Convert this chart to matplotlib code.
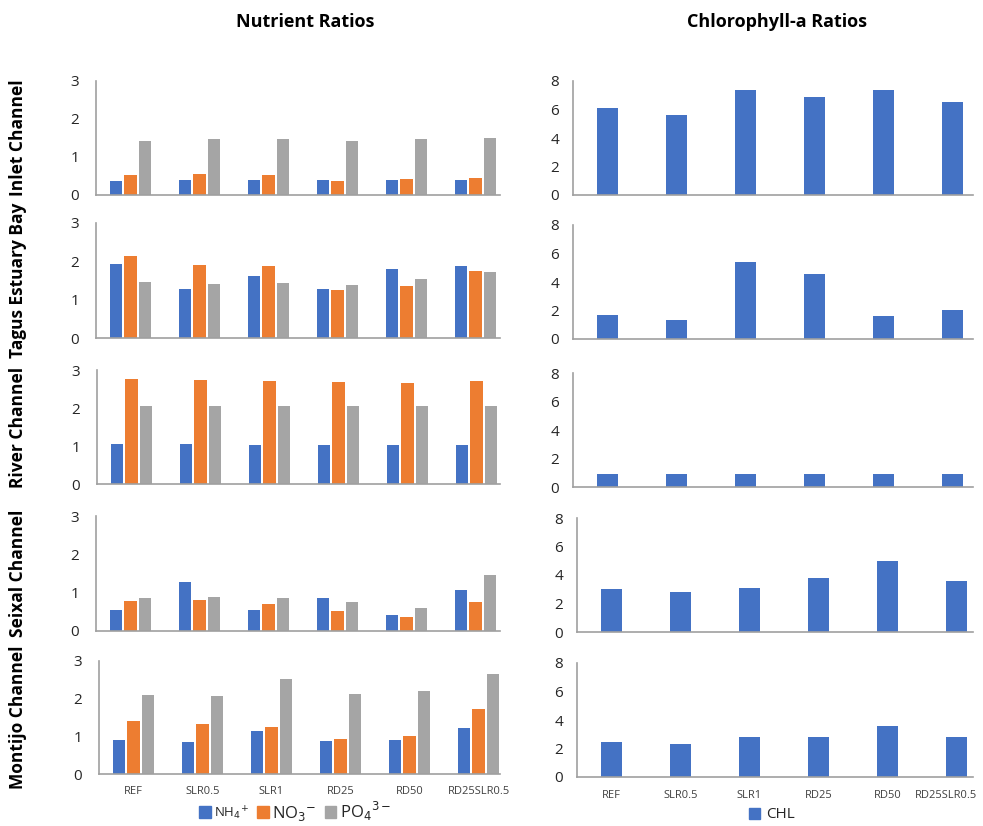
import numpy as np
from matplotlib import pyplot as plt
from matplotlib.patches import Patch
from matplotlib.transforms import ScaledTranslation

plt.rcParams['font.family'] = ['Open Sans', 'DejaVu Sans']

scenarios = ["REF", "SLR0.5", "SLR1", "RD25", "RD50", "RD25SLR0.5"]
sites = ["Inlet Channel", "Tagus Estuary Bay", "River Channel",
         "Seixal Channel", "Montijo Channel"]

# nutrient ratios per site: NH4+, NO3-, PO4 3-
nh4 = [
    [0.37, 0.39, 0.40, 0.39, 0.39, 0.40],
    [1.94, 1.28, 1.61, 1.29, 1.79, 1.89],
    [1.04, 1.04, 1.02, 1.02, 1.02, 1.02],
    [0.56, 1.29, 0.56, 0.85, 0.42, 1.08],
    [0.90, 0.85, 1.15, 0.87, 0.91, 1.21],
]
no3 = [
    [0.53, 0.54, 0.53, 0.37, 0.42, 0.44],
    [2.15, 1.91, 1.89, 1.26, 1.35, 1.75],
    [2.76, 2.73, 2.71, 2.69, 2.67, 2.71],
    [0.78, 0.82, 0.71, 0.51, 0.37, 0.76],
    [1.40, 1.32, 1.26, 0.93, 1.00, 1.73],
]
po4 = [
    [1.42, 1.47, 1.47, 1.42, 1.47, 1.49],
    [1.45, 1.40, 1.43, 1.37, 1.54, 1.71],
    [2.06, 2.06, 2.06, 2.06, 2.06, 2.06],
    [0.85, 0.88, 0.85, 0.75, 0.60, 1.46],
    [2.11, 2.07, 2.51, 2.13, 2.21, 2.65],
]
# chlorophyll-a ratios per site
chl = [
    [6.14, 5.58, 7.36, 6.89, 7.36, 6.52],
    [1.66, 1.31, 5.43, 4.57, 1.59, 2.00],
    [0.92, 0.92, 0.92, 0.92, 0.92, 0.92],
    [3.04, 2.83, 3.09, 3.79, 5.00, 3.58],
    [2.45, 2.35, 2.82, 2.82, 3.58, 2.82],
]

BLUE = "#4472C4"
ORANGE = "#ED7D31"
GRAY = "#A5A5A5"
SPINE = "#A0A0A0"
TXT = "#262626"

W, H = 983, 826
fig = plt.figure(figsize=(W / 100, H / 100), dpi=100)


def px_axes(x0, x1, top, bottom):
    return fig.add_axes([x0 / W, 1 - bottom / H, (x1 - x0) / W, (bottom - top) / H])


def style(ax, ymax, step, last):
    ax.set_ylim(0, ymax)
    ax.set_yticks(np.arange(0, ymax + 0.1, step))
    for s in ["top", "right"]:
        ax.spines[s].set_visible(False)
    for s in ["left", "bottom"]:
        ax.spines[s].set_color(SPINE)
        ax.spines[s].set_linewidth(1.2)
    ax.tick_params(axis="y", length=0, pad=12, labelsize=11, labelcolor=TXT)
    ax.tick_params(axis="x", length=0, pad=9, labelsize=8, labelcolor="#404040")
    ax.set_xticks(range(len(scenarios)))
    if last:
        ax.set_xticklabels(scenarios)
    else:
        ax.set_xticklabels([])


left_rows = [(96, 81, 195), (96, 223, 338), (97, 370, 484), (96, 516, 631), (99, 661, 774)]
right_rows = [(573, 81, 195), (573, 225, 339), (573, 373, 487), (577, 518, 632), (577, 663, 777)]
cat = 69.0
x = np.arange(len(scenarios))

for i in range(5):
    x0, t, b = left_rows[i]
    ax = px_axes(x0, 500, t, b)
    ax.bar(x - 0.21, nh4[i], 0.18, color=BLUE)
    ax.bar(x, no3[i], 0.18, color=ORANGE)
    ax.bar(x + 0.21, po4[i], 0.18, color=GRAY)
    ax.set_xlim(-0.5, (500 - x0) / cat - 0.5)
    style(ax, 3, 1, i == 4)
    fig.text(18 / W, 1 - (t + b) / 2 / H, sites[i], rotation=90, ha="center",
             va="center", fontsize=12.5, fontweight="bold", color="black")

    x0, t, b = right_rows[i]
    ax2 = px_axes(x0, 973, t, b)
    ax2.bar(x, chl[i], 0.31, color=BLUE)
    ax2.set_xlim(-0.5, (973 - x0) / cat - 0.5)
    style(ax2, 8, 2, i == 4)
    ax2.tick_params(axis="y", pad=10)
    if i == 4:
        lab = ax2.get_xticklabels()[-1]
        lab.set_transform(lab.get_transform() + ScaledTranslation(-0.1, 0, fig.dpi_scale_trans))

fig.text(305 / W, 1 - 22 / H, "Nutrient Ratios", ha="center", va="center",
         fontsize=13, fontweight="bold")
fig.text(777 / W, 1 - 22 / H, "Chlorophyll-a Ratios", ha="center", va="center",
         fontsize=13, fontweight="bold")

handles = [Patch(color=BLUE), Patch(color=ORANGE), Patch(color=GRAY)]
labels = [r"NH$_4$$^{+}$", r"NO$_3$$^{-}$", r"PO$_4$$^{3-}$"]
leg = fig.legend(handles, labels, loc="center", bbox_to_anchor=(295 / W, 1 - 811 / H),
                 ncol=3, frameon=False, handlelength=0.7, handleheight=0.7,
                 handletextpad=0.2, columnspacing=0.5, fontsize=12)
leg.get_texts()[0].set_fontsize(9.5)
for tx in leg.get_texts():
    tx.set_color(TXT)

leg2 = fig.legend([Patch(color=BLUE)], ["CHL"], loc="center",
                  bbox_to_anchor=(772 / W, 1 - 815 / H), frameon=False,
                  handlelength=0.7, handleheight=0.7, handletextpad=0.4, fontsize=11)
leg2.get_texts()[0].set_color(TXT)

fig.savefig("out.png", dpi=100)
